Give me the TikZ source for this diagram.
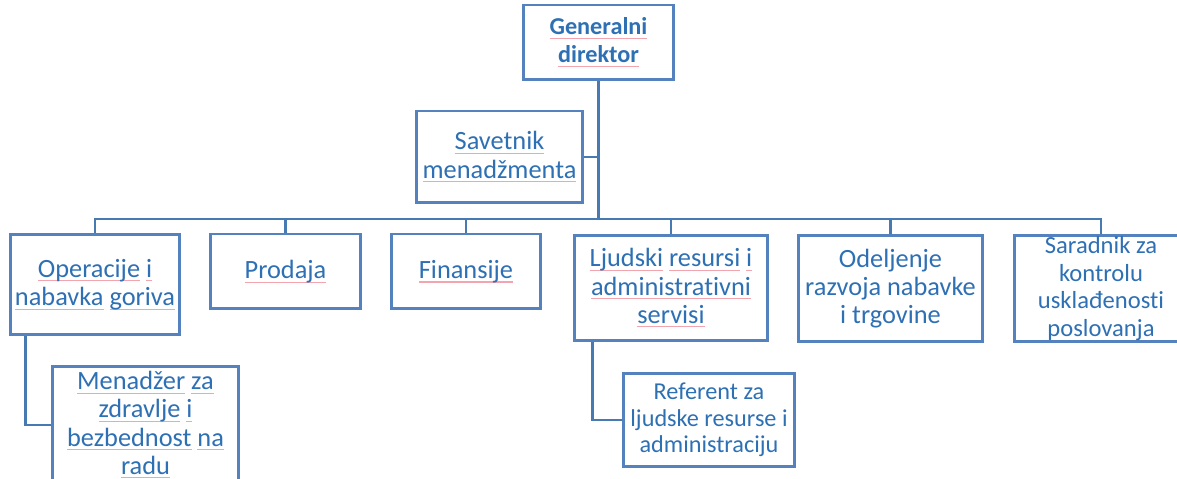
\documentclass[tikz,border=0pt]{standalone}
\usepackage{fontspec}
\setmainfont[Ligatures=NoCommon]{Carlito}
\usepackage{tikz}
\usetikzlibrary{positioning, calc}
\definecolor{boxblue}{RGB}{84,130,190}
\definecolor{textblue}{RGB}{46,112,180}
\definecolor{linkblue}{RGB}{72,122,178}
\definecolor{splpink}{RGB}{242,165,175}
% spell-check style underline under a word
\newcommand\spl[1]{\setbox0\hbox{#1}\rlap{\color{splpink}\rule[-2.4pt]{\wd0}{0.6pt}}\box0\relax}

\tikzset{
  unit/.style={draw=boxblue, line width=1.7pt, fill=white, text=textblue, align=center,
    inner sep=0pt, font=\fontsize{15}{16}\selectfont},
  link/.style={draw=linkblue, line width=1.6pt},
}

\begin{document}
\begin{tikzpicture}[x=0.02cm, y=-0.02cm]
    \useasboundingbox[fill=white] (0,0) rectangle (1177,479);

    % Top
    \node[unit, font=\fontsize{13.8}{16}\selectfont\bfseries, minimum width=3.02cm, minimum height=1.5cm]
        (gd) at (598.5,42.5) {\spl{Generalni}\\\spl{direktor}};
    \node[unit, minimum width=3.34cm, minimum height=1.84cm]
        (sav) at (499.5,157) {\spl{Savetnik}\\\spl{menadžmenta}};

    % Sectors
    \node[unit, minimum width=3.4cm, minimum height=2.02cm]
        (ops) at (95,284.5) {\spl{Operacije} \spl{i}\\\spl{nabavka} \spl{goriva}};
    \node[unit, minimum width=3.02cm, minimum height=1.5cm]
        (pro) at (285.5,271.5) {\spl{Prodaja}};
    \node[unit, minimum width=3.0cm, minimum height=1.5cm]
        (fin) at (466,271.5) {\spl{Finansije}};
    \node[unit, minimum width=3.88cm, minimum height=2.12cm]
        (lju) at (671,288) {\spl{Ljudski} \spl{resursi} \spl{i}\\\spl{administrativni}\\\spl{servisi}};
    \node[unit, minimum width=3.7cm, minimum height=2.14cm]
        (ode) at (890.5,288.5) {Odeljenje\\razvoja nabavke\\i trgovine};
    \node[unit, font=\fontsize{14}{15.6}\selectfont, minimum width=3.48cm, minimum height=2.14cm]
        (sar) at (1101,288.5) {Saradnik za\\kontrolu\\usklađenosti\\poslovanja};

    % Sub units
    \node[unit, minimum width=3.74cm, minimum height=2.36cm]
        (men) at (145.5,425) {\spl{Menadžer} \spl{za}\\\spl{zdravlje} \spl{i}\\\spl{bezbednost} \spl{na}\\\spl{radu}};
    \node[unit, font=\fontsize{13.8}{15.2}\selectfont, minimum width=3.44cm, minimum height=1.88cm]
        (ref) at (709,420) {Referent za\\ljudske resurse i\\administraciju};

    % Links
    \coordinate (bus) at (598.5,219);
    \draw[link, line width=2.2pt] (gd.south) -- (bus);
    \draw[link] (sav.east) -- (sav.east -| bus);
    \foreach \u in {ops,pro,fin,lju,ode,sar}
        \draw[link] (bus) -| (\u.north);
    \draw[link] ($(ops.south west)!0.1!(ops.south east)$) |- (men.west);
    \draw[link] ($(lju.south west)!0.1!(lju.south east)$) |- (ref.west);
\end{tikzpicture}
\end{document}
